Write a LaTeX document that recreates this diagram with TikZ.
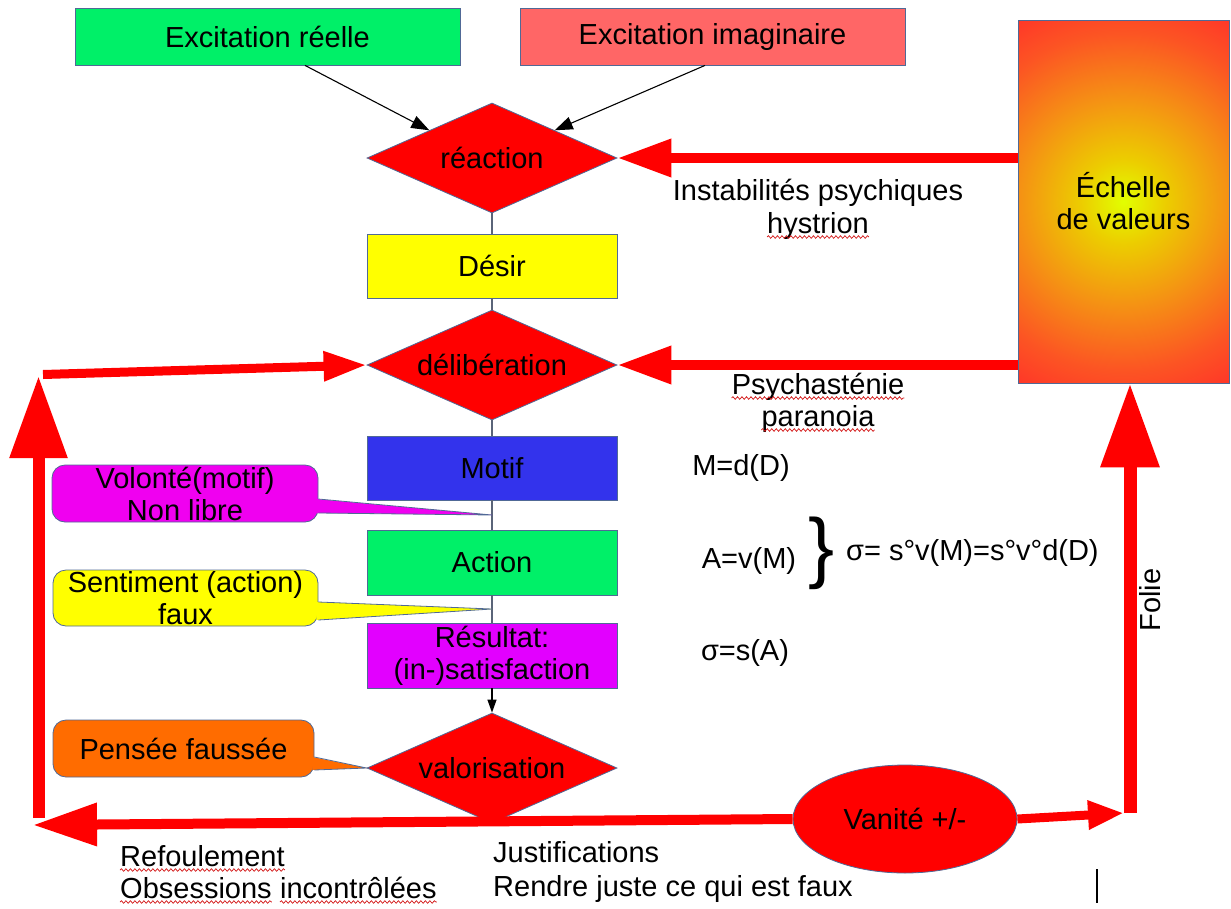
\documentclass[tikz,border=0pt]{standalone}
\usepackage{fontspec}
\setmainfont{Liberation Sans}
\usetikzlibrary{shapes.geometric,arrows.meta,decorations.pathmorphing,calc}

\definecolor{bgreen}{RGB}{0,240,104}
\definecolor{pinkred}{RGB}{255,102,102}
\definecolor{dred}{RGB}{255,0,0}
\definecolor{dyellow}{RGB}{255,255,0}
\definecolor{dblue}{RGB}{51,51,236}
\definecolor{dmag}{RGB}{226,0,255}
\definecolor{cmag}{RGB}{240,0,240}
\definecolor{dorange}{RGB}{255,108,0}
\definecolor{bord}{RGB}{80,105,150}
\definecolor{connc}{RGB}{90,100,120}
\definecolor{squigc}{RGB}{210,20,20}
\definecolor{ey}{RGB}{226,255,0}
\definecolor{ey2}{RGB}{236,205,0}
\definecolor{eo}{RGB}{245,145,20}
\definecolor{er1}{RGB}{252,85,35}
\definecolor{er}{RGB}{255,55,40}

\pgfdeclareradialshading{echelle}{\pgfpoint{0bp}{0bp}}{color(0bp)=(ey); color(5bp)=(ey2); color(12.5bp)=(eo); color(20bp)=(er1); color(25bp)=(er); color(50bp)=(er)}

\begin{document}
\begin{tikzpicture}[x=1pt,y=-1pt,
  every node/.style={font={\fontsize{29}{32}\selectfont}, inner sep=0pt},
  box/.style={draw=bord, line width=0.8pt, rectangle, minimum width=250pt, minimum height=64pt, align=center},
  dia/.style={draw=bord, line width=0.8pt, diamond, aspect=2.27, minimum width=250pt, minimum height=110pt, fill=dred},
  callout/.style={draw=bord, line width=0.8pt, rectangle, rounded corners=13pt, align=center},
  connline/.style={draw=connc, line width=1.2pt},
  blk/.style={draw=black, line width=1.1pt, -{Triangle[length=18pt,width=13pt]}},
  bigred/.style={draw=dred, line width=10pt},
  squig/.style={draw=squigc, line width=0.7pt, decorate, decoration={snake, amplitude=1.3pt, segment length=4.5pt}}
]
\useasboundingbox (0,0) rectangle (1231,908);

% main flow
\node[box, fill=bgreen, minimum width=385pt, minimum height=57pt] (exr) at (267.5,36.5) {Excitation réelle};
\node[box, fill=pinkred, minimum width=385pt, minimum height=57pt] (exi) at (712.5,36.5) {Excitation imaginaire};
\node[dia] (rea) at (492,158) {réaction};
\node[box, fill=dyellow] (des) at (492,266) {Désir};
\node[dia] (del) at (492,365) {délibération};
\node[box, fill=dblue] (mot) at (492,468) {Motif};
\node[box, fill=bgreen, minimum height=65pt] (act) at (492,562.5) {Action};
\node[box, fill=dmag, minimum height=65pt] (res) at (492,655.5) {Résultat:\\(in-)satisfaction};
\node[dia] (val) at (492,768) {valorisation};

% scale of values
\node[draw=bord, line width=0.8pt, minimum width=211pt, minimum height=363pt, align=center,
  path picture={\shade[shading=echelle] (path picture bounding box.center) circle (210pt);}]
  (ech) at (1123.5,201.5) {Échelle\\de valeurs};

% vanity
\node[ellipse, draw=bord, line width=0.8pt, fill=dred, minimum width=224pt, minimum height=108pt] (van) at (905,819) {Vanité +/-};

% thin connectors
\draw[connline] (rea.south) -- (des.north);
\draw[connline] (des.south) -- (del.north);
\draw[connline] (del.south) -- (mot.north);
\draw[connline] (mot.south) -- (act.north);
\draw[connline] (act.south) -- (res.north);
\draw[connline, draw=black, -{Triangle[length=13pt,width=9pt]}] (res.south) -- (val.north);
\coordinate (mt) at ($(mot.south)!0.5!(act.north)$);
\coordinate (ar) at ($(act.south)!0.5!(res.north)$);

\draw[blk] ([xshift=37.5pt]exr.south) -- (rea.north west);
\draw[blk] ([xshift=-7.5pt]exi.south) -- (rea.north east);

% callouts
\node[callout, fill=cmag, minimum width=266pt, minimum height=57pt] (vol) at (185,493.5) {Volonté(motif)\\Non libre};
\fill[cmag] ([xshift=-2pt,yshift=-5.5pt]vol.east) -- (mt) -- ([xshift=-2pt,yshift=-19.5pt]vol.east) -- cycle;
\draw[draw=bord, line width=0.8pt] ([yshift=-5.5pt]vol.east) -- (mt) -- ([yshift=-19.5pt]vol.east);

\node[callout, fill=dyellow, minimum width=265pt, minimum height=56pt] (sen) at (185.5,598) {Sentiment (action)\\faux};
\fill[dyellow] ([xshift=-2pt,yshift=-4pt]sen.east) -- (ar) -- ([xshift=-2pt,yshift=-22pt]sen.east) -- cycle;
\draw[draw=bord, line width=0.8pt] ([yshift=-4pt]sen.east) -- (ar) -- ([yshift=-22pt]sen.east);

\node[callout, fill=dorange, minimum width=261pt, minimum height=57pt] (pen) at (183.5,748.5) {Pensée faussée};
\fill[dorange] ([xshift=-2pt,yshift=-8.5pt]pen.east) -- (val.west) -- ([xshift=-2pt,yshift=-21.5pt]pen.east) -- cycle;
\draw[draw=bord, line width=0.8pt] ([yshift=-8.5pt]pen.east) -- (val.west) -- ([yshift=-21.5pt]pen.east);

% big red arrows
\draw[bigred, -{Triangle[length=54pt,width=36pt]}] (ech.west |- rea.east) -- (rea.east);
\draw[bigred, -{Triangle[length=54pt,width=36pt]}] (ech.west |- del.east) -- (del.east);

\coordinate (lbot) at (38.5,818);
\coordinate (ltop) at (38.5,376);
\draw[bigred, line width=12pt, -{Triangle[length=82pt,width=55pt]}] (lbot) -- (ltop);
\coordinate (lstart) at (43,374.5);
\draw[bigred, line width=9pt, -{Triangle[length=43pt,width=28pt]}] (lstart) -- (del.west);

\coordinate (bl) at (33,825);
\draw[bigred, -{Triangle[length=64pt,width=41pt]}] (van.west) -- (bl);
\coordinate (br) at (1124,813);
\draw[bigred, line width=9pt, -{Triangle[length=36pt,width=27pt]}] (van.east) -- (br);
\coordinate (rb) at (1130,813);
\draw[bigred, line width=13pt, -{Triangle[length=84pt,width=56pt]}] (rb) -- (rb |- ech.south);

% labels
\node[anchor=base] (ins) at (818,200) {Instabilités psychiques};
\node[anchor=base] (hys) at (818,233) {hystrion};
\node[anchor=base] (psy) at (818,394) {Psychasténie};
\node[anchor=base] (par) at (818,426) {paranoia};
\node[rotate=90] (fol) at (1150,600) {Folie};

\node[anchor=base] (md) at (741,475) {M=d(D)};
\node[anchor=base] (av) at (749,568) {A=v(M)};
\node[font={\fontsize{78}{80}\selectfont}] (brc) at (822,553) {\}};
\node[anchor=base west] (sig) at (846,560) {σ= s°v(M)=s°v°d(D)};
\node[anchor=base] (sa) at (745,660) {σ=s(A)};

\node[anchor=base west] (ref) at (120,866) {Refoulement};
\node[anchor=base west] (obs) at (120,898) {Obsessions};
\node[anchor=base west] (inc) at ([xshift=8.06pt]obs.base east) {incontrôlées};
\node[anchor=base west] (jus) at (493,862) {Justifications};
\node[anchor=base west] (ren) at (493,896) {Rendre juste ce qui est faux};

% spell-check squiggles
\foreach \n in {hys,psy,par,ref,obs,inc}
  \draw[squig] ([yshift=-4pt]\n.base west) -- ([yshift=-4pt]\n.base east);

% cursor mark
\draw[black, line width=1.2pt] (1097,869) -- (1097,903);
\end{tikzpicture}
\end{document}
